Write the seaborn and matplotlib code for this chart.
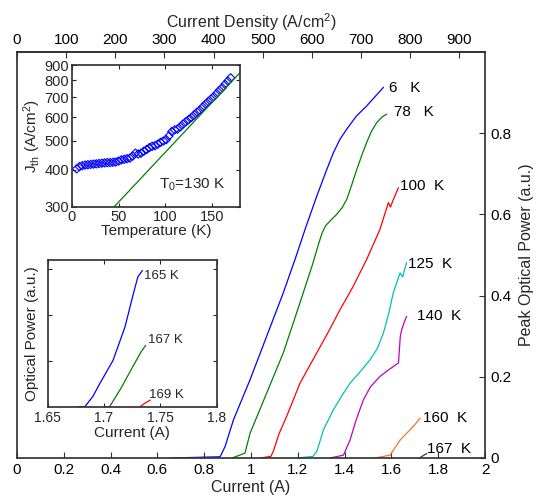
import numpy as np
import pandas as pd
import matplotlib
matplotlib.use("Agg")
import matplotlib.pyplot as plt
import seaborn as sns

# main panel: peak optical power vs current, one curve per temperature
temps = ["6", "78", "100", "125", "140", "160", "167"]
curve_labels = ["6   K", "78   K", "100  K", "125  K", "140  K", "160  K", "167  K"]
colors = ["#0000ff", "#008000", "#ff0000", "#00bfbf", "#bf00bf", "#f07828", "#404040"]

i_6 = [0.66, 0.868, 0.889, 0.925, 0.996, 1.067, 1.138, 1.188, 1.232, 1.281, 1.32, 1.352,
       1.38, 1.409, 1.45, 1.494, 1.53, 1.566]
p_6 = [0.0, 0.003, 0.028, 0.094, 0.193, 0.300, 0.407, 0.489, 0.565, 0.645, 0.705, 0.752,
       0.785, 0.810, 0.842, 0.867, 0.890, 0.913]
i_78 = [0.92, 0.974, 0.996, 1.067, 1.138, 1.209, 1.262, 1.290, 1.305, 1.320, 1.345, 1.366,
        1.390, 1.409, 1.430, 1.452, 1.475, 1.494, 1.515, 1.537, 1.560, 1.580]
p_78 = [0.0, 0.012, 0.061, 0.160, 0.259, 0.382, 0.475, 0.530, 0.556, 0.573, 0.588, 0.600,
        0.617, 0.637, 0.672, 0.711, 0.748, 0.777, 0.805, 0.826, 0.840, 0.847]
i_100 = [1.04, 1.085, 1.095, 1.12, 1.152, 1.209, 1.281, 1.33, 1.380, 1.437, 1.494, 1.551,
         1.587, 1.596, 1.605, 1.630]
p_100 = [0.0, 0.004, 0.016, 0.06, 0.102, 0.184, 0.259, 0.31, 0.365, 0.423, 0.489, 0.563,
         0.629, 0.618, 0.632, 0.666]
i_125 = [1.20, 1.265, 1.281, 1.31, 1.352, 1.39, 1.423, 1.47, 1.509, 1.54, 1.566, 1.59,
         1.608, 1.637, 1.648, 1.655, 1.665]
p_125 = [0.0, 0.004, 0.016, 0.07, 0.119, 0.155, 0.184, 0.215, 0.242, 0.27, 0.308, 0.36,
         0.407, 0.456, 0.446, 0.462, 0.481]
i_140 = [1.338, 1.395, 1.423, 1.45, 1.480, 1.51, 1.551, 1.59, 1.630, 1.638, 1.644, 1.655, 1.665]
p_140 = [0.0, 0.007, 0.044, 0.095, 0.143, 0.175, 0.201, 0.218, 0.234, 0.300, 0.316, 0.335, 0.349]
i_160 = [1.53, 1.594, 1.615, 1.637, 1.66, 1.679, 1.70, 1.722]
p_160 = [0.0, 0.007, 0.025, 0.044, 0.058, 0.069, 0.082, 0.098]
i_167 = [1.722, 1.751]
p_167 = [0.001, 0.011]

# where the temperature labels sit (current, power)
label_i = [1.59, 1.612, 1.637, 1.672, 1.708, 1.735, 1.753]
label_p = [0.911, 0.852, 0.670, 0.479, 0.349, 0.099, 0.022]

# inset 1: threshold current density vs temperature
t_k = [5, 8, 11, 14, 17, 20, 23, 26, 29, 32, 35, 38, 41, 44, 47, 50, 53, 56, 59, 62,
       65, 68, 71, 74, 77, 80, 83, 86, 89, 92, 95, 98, 101, 104, 107, 110, 113, 116, 119,
       122, 125, 128, 131, 134, 137, 140, 143, 146, 149, 152, 155, 158, 161, 164, 167, 170]
j_th = [403, 410, 413, 415, 416, 417, 418, 419, 420, 421, 422, 423, 423, 424, 425, 428,
        432, 434, 436, 438, 445, 455, 452, 455, 462, 468, 475, 480, 482, 488, 495, 500,
        505, 520, 538, 545, 548, 558, 570, 580, 590, 600, 612, 625, 635, 650, 665, 678,
        692, 705, 722, 740, 755, 775, 795, 815]
fit_t = [45, 180]
fit_j = [300, 848]

# inset 2: optical power near threshold at high temperature
inset_temps = ["165 K", "167 K", "169 K"]
inset_colors = ["#0000ff", "#008000", "#ff0000"]
i_165 = [1.677, 1.683, 1.690, 1.6964, 1.708, 1.7186, 1.726, 1.730, 1.734]
p_165 = [0.0, 0.0, 0.22, 0.51, 1.01, 1.74, 2.46, 2.83, 2.97]
i_167b = [1.700, 1.705, 1.715, 1.725, 1.733, 1.737]
p_167b = [0.0, 0.0, 0.40, 0.85, 1.20, 1.34]
i_169 = [1.732, 1.736, 1.741]
p_169 = [0.0, 0.07, 0.145]
inset_label_i = [1.7355, 1.739, 1.740]
inset_label_p = [2.86, 1.45, 0.25]

DENSITY_PER_AMP = 476.2  # A/cm^2 per A

sns.set_theme(style="ticks")
plt.rcParams["font.family"] = ["Liberation Sans", "DejaVu Sans"]
plt.rcParams["mathtext.fontset"] = "custom"
plt.rcParams["mathtext.rm"] = "Liberation Sans"
plt.rcParams["mathtext.it"] = "Liberation Sans"
plt.rcParams["axes.edgecolor"] = "#333333"
plt.rcParams["xtick.direction"] = "in"
plt.rcParams["ytick.direction"] = "in"

fig = plt.figure(figsize=(5.4, 5.04), dpi=100)
ax = fig.add_axes([0.0315, 0.0913, 0.8667, 0.8055])

curves = [(i_6, p_6), (i_78, p_78), (i_100, p_100), (i_125, p_125),
          (i_140, p_140), (i_160, p_160), (i_167, p_167)]
rows = []
for t, (ii, pp) in zip(temps, curves):
    for a, b in zip(ii, pp):
        rows.append({"T": t, "I": a, "P": b})
df = pd.DataFrame(rows)

sns.lineplot(data=df, x="I", y="P", hue="T", palette=dict(zip(temps, colors)),
             sort=False, estimator=None, lw=0.9, legend=False, ax=ax)
for lab, x, y in zip(curve_labels, label_i, label_p):
    ax.text(x, y, lab, fontsize=11, va="center", ha="left", color="black")

ax.set_xlim(0, 2)
ax.set_ylim(0, 1.0)
ax.set_xticks(np.arange(0, 2.01, 0.2))
ax.set_xticklabels(["0", "0.2", "0.4", "0.6", "0.8", "1", "1.2", "1.4", "1.6", "1.8", "2"])
ax.yaxis.tick_right()
ax.yaxis.set_label_position("right")
ax.set_yticks([0, 0.2, 0.4, 0.6, 0.8])
ax.set_yticklabels(["0", "0.2", "0.4", "0.6", "0.8"])
ax.tick_params(labelsize=11, length=4, width=0.8, colors="#333333", labelcolor="black")
ax.set_xlabel("Current (A)", fontsize=11.5, labelpad=2)
ax.set_ylabel("Peak Optical Power (a.u.)", fontsize=11.5, labelpad=6)

top = ax.secondary_xaxis("top", functions=(lambda x: x * DENSITY_PER_AMP,
                                           lambda d: d / DENSITY_PER_AMP))
top.set_xticks(np.arange(0, 901, 100))
top.tick_params(labelsize=11, length=4, width=0.8, direction="in", colors="#333333", labelcolor="black")
top.set_xlabel("Current Density (A/cm$^2$)", fontsize=11.5, labelpad=4)

# inset 1: J_th vs temperature (log scale)
ax1 = fig.add_axes([0.1333, 0.5893, 0.3111, 0.2817])
sns.scatterplot(x=t_k, y=j_th, marker="D", s=18, facecolor="none", edgecolor="#0000ff",
                linewidth=0.8, ax=ax1)
sns.lineplot(x=fit_t, y=fit_j, color="#008000", lw=0.9, ax=ax1)
ax1.set_yscale("log")
ax1.set_xlim(0, 180)
ax1.set_ylim(300, 900)
ax1.set_xticks([0, 50, 100, 150])
ax1.yaxis.set_major_locator(matplotlib.ticker.FixedLocator([300, 400, 500, 600, 700, 800, 900]))
ax1.yaxis.set_major_formatter(matplotlib.ticker.FixedFormatter(["300", "400", "500", "600", "700", "800", "900"]))
ax1.yaxis.set_minor_locator(matplotlib.ticker.NullLocator())
ax1.tick_params(labelsize=10.5, length=3, width=0.8, top=True, right=True, pad=2)
ax1.set_xlabel("Temperature (K)", fontsize=11, labelpad=0)
ax1.set_ylabel("J$_{\\rm th}$ (A/cm$^2$)", fontsize=11, labelpad=1)
ax1.text(93, 355, "T$_0$=130 K", fontsize=11, va="center", ha="left")

# inset 2: optical power near threshold
ax2 = fig.add_axes([0.0883, 0.1931, 0.313, 0.291])
for ii, pp, c in zip([i_165, i_167b, i_169], [p_165, p_167b, p_169], inset_colors):
    sns.lineplot(x=ii, y=pp, color=c, lw=0.9, sort=False, estimator=None, ax=ax2)
for lab, x, y in zip(inset_temps, inset_label_i, inset_label_p):
    ax2.text(x, y, lab, fontsize=9.5, va="center", ha="left")
ax2.set_xlim(1.65, 1.8)
ax2.set_ylim(0, 3.2)
ax2.set_xticks([1.65, 1.7, 1.75, 1.8])
ax2.set_xticklabels(["1.65", "1.7", "1.75", "1.8"])
ax2.set_yticks([1, 2, 3])
ax2.set_yticklabels([])
ax2.tick_params(labelsize=10, length=3, width=0.8, top=True, right=True, pad=3)
ax2.set_xlabel("Current (A)", fontsize=11, labelpad=1)
ax2.set_ylabel("Optical Power (a.u.)", fontsize=11, labelpad=3)

fig.savefig("out.png", dpi=100)
